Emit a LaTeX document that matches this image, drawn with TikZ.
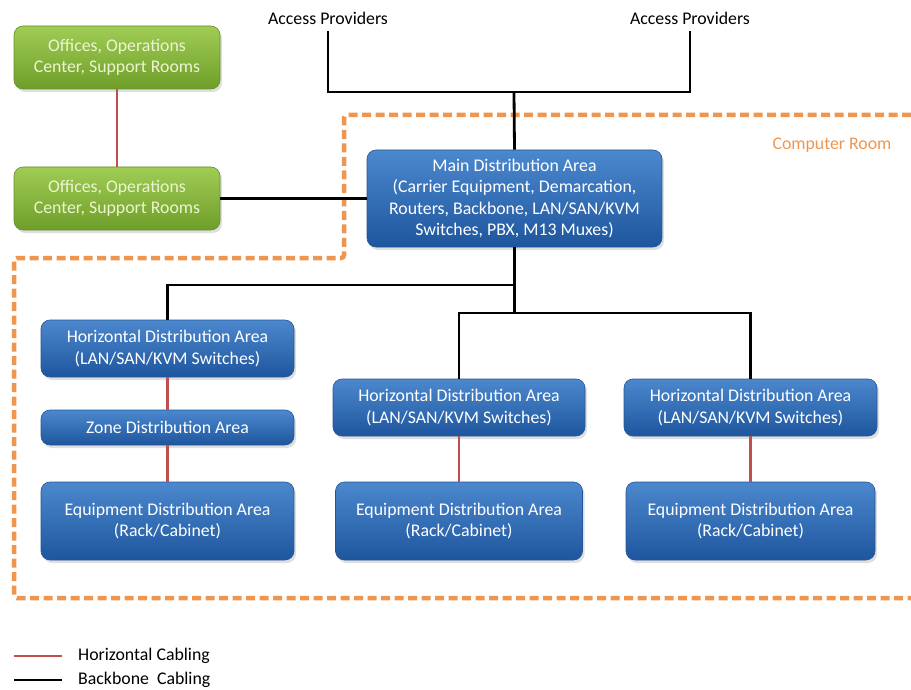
\documentclass[tikz,border=0pt]{standalone}
\usepackage{fontspec}
\setmainfont{Carlito}
\usetikzlibrary{shadows}

\definecolor{bluetop}{RGB}{76,136,206}
\definecolor{bluebot}{RGB}{30,86,158}
\definecolor{blueedge}{RGB}{36,86,150}
\definecolor{greentop}{RGB}{160,204,84}
\definecolor{greenbot}{RGB}{110,158,42}
\definecolor{greenedge}{RGB}{100,144,42}
\definecolor{greentext}{RGB}{236,244,210}
\definecolor{cabred}{RGB}{192,80,77}
\definecolor{roomorange}{RGB}{238,150,80}

\newcommand\diafont{\fontsize{17.8}{21.5}\selectfont}

\tikzset{
  area/.style={rectangle, rounded corners=9pt, draw=blueedge, line width=0.6pt,
    top color=bluetop, bottom color=bluebot, text=white, align=center,
    font=\diafont, inner sep=0pt,
    drop shadow={shadow xshift=2pt, shadow yshift=-3pt, opacity=0.25}},
  office/.style={area, draw=greenedge, top color=greentop, bottom color=greenbot,
    text=greentext},
  backbone/.style={black, line width=2.8pt},
  horiz/.style={cabred, line width=2.8pt},
  room/.style={roomorange, line width=4.5pt, dash pattern=on 9pt off 4.5pt,
    rounded corners=3pt},
}

\begin{document}
\begin{tikzpicture}[x=1pt,y=-1pt,font=\diafont]
  \useasboundingbox (0,0) rectangle (911,690);

  % computer room boundary
  \draw[room] (911,115) -- (344,115) -- (344,258) -- (14,258) -- (14,598) -- (911,598);
  \node[text=roomorange] (room) at (832,145) {Computer Room};

  % access providers
  \node[inner ysep=7pt] (ap1) at (328,18) {Access Providers};
  \node[inner ysep=7pt] (ap2) at (690,18) {Access Providers};
  \coordinate (top) at (514,92);

  % offices
  \node[office, minimum width=206pt, minimum height=63pt] (ofc1) at (117,57.5)
    {Offices, Operations\\Center, Support Rooms};
  \node[office, minimum width=206pt, minimum height=63pt] (ofc2) at (117,198.5)
    {Offices, Operations\\Center, Support Rooms};

  % main distribution area
  \node[area, minimum width=295pt, minimum height=97pt] (mda) at (514.5,198.5)
    {Main Distribution Area\\(Carrier Equipment, Demarcation,\\Routers, Backbone, LAN/SAN/KVM\\Switches, PBX, M13 Muxes)};
  \coordinate (split1) at (514.5,285);
  \coordinate (split2) at (514.5,313);

  % horizontal distribution areas
  \node[area, minimum width=253pt, minimum height=57pt] (hda1) at (167.5,348.5)
    {Horizontal Distribution Area\\(LAN/SAN/KVM Switches)};
  \node[area, minimum width=252pt, minimum height=57pt] (hda2) at (459,407.5)
    {Horizontal Distribution Area\\(LAN/SAN/KVM Switches)};
  \node[area, minimum width=253pt, minimum height=57pt] (hda3) at (750.5,407.5)
    {Horizontal Distribution Area\\(LAN/SAN/KVM Switches)};
  \node[area, minimum width=253pt, minimum height=35pt] (zda) at (167.5,427.5)
    {Zone Distribution Area};

  % equipment distribution areas
  \node[area, minimum width=253pt, minimum height=78pt] (eda1) at (167.5,521)
    {Equipment Distribution Area\\(Rack/Cabinet)};
  \node[area, minimum width=247pt, minimum height=78pt] (eda2) at (459,521)
    {Equipment Distribution Area\\(Rack/Cabinet)};
  \node[area, minimum width=249pt, minimum height=78pt] (eda3) at (750.5,521)
    {Equipment Distribution Area\\(Rack/Cabinet)};

  % backbone cabling
  \draw[backbone] (ap1.south) |- (top) -| (ap2.south);
  \draw[backbone] (top) -- (mda.north);
  \draw[backbone] (ofc2.east) -- (mda.west);
  \draw[backbone] (mda.south) -- (split2);
  \draw[backbone] (split1) -| (hda1.north);
  \draw[backbone] (hda2.north) |- (split2) -| (hda3.north);

  % horizontal cabling
  \draw[horiz] (ofc1.south) -- (ofc2.north);
  \draw[horiz] (hda1.south) -- (zda.north);
  \draw[horiz] (zda.south) -- (eda1.north);
  \draw[horiz] (hda2.south) -- (eda2.north);
  \draw[horiz] (hda3.south) -- (eda3.north);

  % legend
  \coordinate (hk1) at (14,656);
  \coordinate (hk2) at (62,656);
  \coordinate (bk1) at (14,680);
  \coordinate (bk2) at (62,680);
  \draw[horiz] (hk1) -- (hk2);
  \draw[backbone] (bk1) -- (bk2);
  \node[anchor=west, inner sep=0pt] (hlab) at (78,656) {Horizontal Cabling};
  \node[anchor=west, inner sep=0pt] (blab) at (78,680) {Backbone\ \ Cabling};
\end{tikzpicture}
\end{document}
